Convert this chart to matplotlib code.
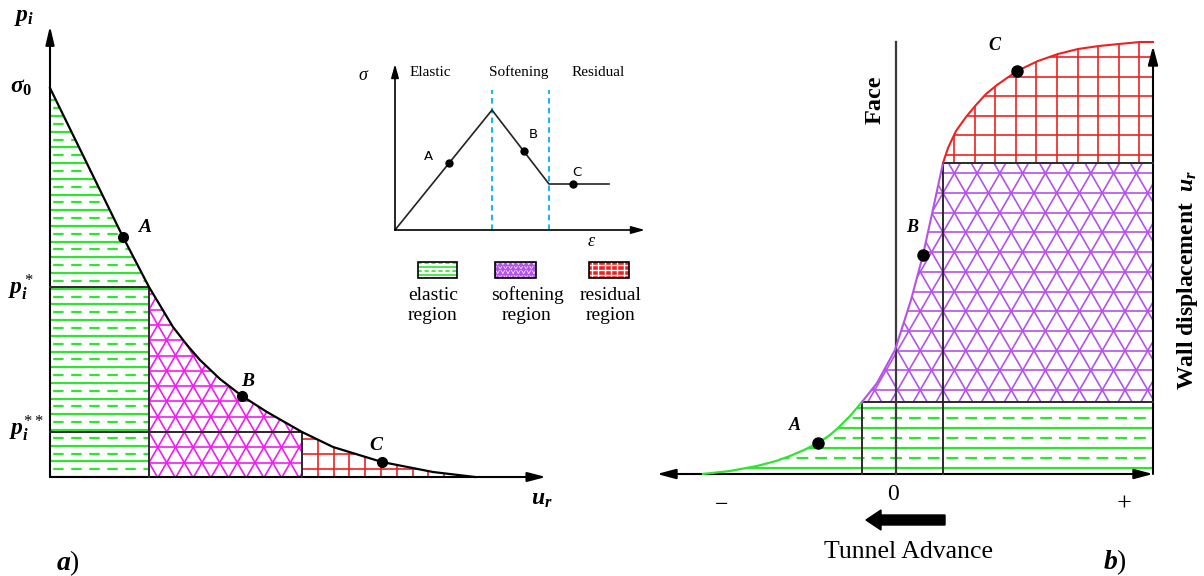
import numpy as np
import matplotlib
matplotlib.use("Agg")
import matplotlib.pyplot as plt
from matplotlib.patches import Polygon, Rectangle, FancyArrow
from matplotlib.collections import LineCollection

plt.rcParams.update({
    "font.family": ["Liberation Serif", "DejaVu Serif"],
    "mathtext.fontset": "custom",
    "mathtext.rm": "Liberation Serif",
    "mathtext.it": "Liberation Serif:italic:bold",
    "mathtext.bf": "Liberation Serif:bold",
    "lines.scale_dashes": False,
})

# ---------------- data (panel a: ground reaction curve) ----------------
pa_u = [0, 73, 99, 111, 123, 137, 150, 170, 192, 217, 252, 283, 332, 383, 425]
pa_p = [389, 240, 190, 170, 150, 132, 117, 98, 81, 65, 45, 30, 15, 5, 0]
pa_sigma0 = 389
pa_pstar = 190
pa_p2star = 45
pa_u_star = 99
pa_u_2star = 252
pa_pt_names = ["A", "B", "C"]
pa_pt_u = [73, 192, 332]
pa_pt_p = [240, 81, 15]

# ---------------- data (inset: stress-strain) ----------------
in_eps = [0, 97, 154, 214]
in_sig = [0, 120, 46, 46]
in_pt_names = ["A", "B", "C"]
in_pt_eps = [54, 129, 178]
in_pt_sig = [67, 79, 46]
in_zone_names = ["Elastic", "Softening", "Residual"]
in_legend_names = ["elastic", "softening", "residual"]

# ---------------- data (panel b: longitudinal displacement profile) ----------------
pb_green_x = [-193, -166, -139, -120, -106, -92, -78, -66, -58, -46, -34]
pb_green_y = [0, 3, 8, 13, 18, 24, 31, 39, 46, 58, 72]
pb_purple_x = [-34, -19, -1, 15, 27, 39, 47]
pb_purple_y = [72, 91, 124, 174, 219, 274, 311]
pb_red_x = [47, 52, 60, 70, 80, 90, 101, 121, 142, 162, 182, 203, 223, 244, 257]
pb_red_y = [311, 326, 343, 357, 369, 380, 389, 403, 413, 420, 425, 428, 430, 432, 432]
pb_pt_names = ["A", "B", "C"]
pb_pt_x = [-78, 27, 121]
pb_pt_y = [31, 219, 403]
pb_x_max = 257
pb_face_top = 432

W, H = 1204, 576
fig = plt.figure(figsize=(W / 100, H / 100), dpi=100)

GREEN = "#2fe52f"
MAGENTA = "#f01cf0"
PURPLE = "#b452ec"
RED = "#f02020"
DARK = "#2a2a2a"


def panel_axes(x0, x1, y0, y1, ox, oy):
    ax = fig.add_axes([x0 / W, 1 - y1 / H, (x1 - x0) / W, (y1 - y0) / H])
    ax.set_xlim(x0 - ox, x1 - ox)
    ax.set_ylim(oy - y1, oy - y0)
    ax.axis("off")
    ax.patch.set_alpha(0)
    return ax


def hatch(ax, poly, angle, spacing, phase_pt, color, lw, ls="solid", z=2):
    verts = np.asarray(poly.get_xy())
    th = np.deg2rad(angle)
    d = np.array([np.cos(th), np.sin(th)])
    n = np.array([-np.sin(th), np.cos(th)])
    proj = verts @ n
    p0 = np.dot(n, phase_pt)
    kmin = int(np.floor((proj.min() - p0) / spacing)) - 1
    kmax = int(np.ceil((proj.max() - p0) / spacing)) + 1
    diag = np.ptp(verts[:, 0]) + np.ptp(verts[:, 1]) + 10
    c = verts.mean(axis=0)
    segs = []
    for k in range(kmin, kmax + 1):
        off = p0 + k * spacing - np.dot(n, c)
        base = c + n * off
        segs.append([base - d * diag, base + d * diag])
    lc = LineCollection(segs, colors=color, linewidths=lw, linestyles=ls, zorder=z)
    lc.set_clip_path(poly)
    ax.add_collection(lc, autolim=False)


def region(ax, xy):
    poly = Polygon(xy, closed=True, facecolor="white", edgecolor="none", zorder=1)
    ax.add_patch(poly)
    return poly


def green_fill(ax, poly, y0, step, dash, lw_s, lw_d):
    hatch(ax, poly, 0, 2 * step, (0, y0), GREEN, lw_s)
    hatch(ax, poly, 0, 2 * step, (0, y0 + step), GREEN, lw_d, ls=(0, dash))


def tri_fill(ax, poly, x0, y0, h, color, lw):
    hatch(ax, poly, 0, h, (x0, y0), color, lw)
    hatch(ax, poly, 60, h, (x0, y0), color, lw)
    hatch(ax, poly, -60, h, (x0, y0), color, lw)


def grid_fill(ax, poly, x0, sx, y0, sy, color, lw):
    hatch(ax, poly, 90, sx, (x0, 0), color, lw)
    hatch(ax, poly, 0, sy, (0, y0), color, lw)


def arrow(ax, start, end, ms=14, lw=1.5, style="-|>", color="black", hl=0.8, hw=0.22):
    ax.annotate("", xy=end, xytext=start,
                arrowprops=dict(arrowstyle=style + ",head_length=%g,head_width=%g" % (hl, hw),
                                mutation_scale=ms, lw=lw, color=color,
                                shrinkA=0, shrinkB=0), annotation_clip=False)


# ======================= Panel a =======================
axa = panel_axes(0, 640, 0, 576, ox=50, oy=477)
u = np.array(pa_u, float)
p = np.array(pa_p, float)

m1 = u <= pa_u_star
g_poly = region(axa, [(0, 0)] + list(zip(u[m1], p[m1])) + [(pa_u_star, 0)])
green_fill(axa, g_poly, 204, 7.85, (7.5, 5.5), 1.6, 1.6)

m2 = (u >= pa_u_star) & (u <= pa_u_2star)
s_poly = region(axa, [(pa_u_star, 0)] + list(zip(u[m2], p[m2])) + [(pa_u_2star, 0)])
tri_fill(axa, s_poly, pa_u_star, pa_p2star, 15.3, MAGENTA, 1.2)

m3 = u >= pa_u_2star
r_poly = region(axa, [(pa_u_2star, 0)] + list(zip(u[m3], p[m3])))
grid_fill(axa, r_poly, pa_u_2star, 15.8, 38, 15.0, RED, 1.2)

# boundaries
axa.plot([0, pa_u_star], [pa_pstar, pa_pstar], color=DARK, lw=1.4, zorder=4)
axa.plot([0, pa_u_2star], [pa_p2star, pa_p2star], color=DARK, lw=1.4, zorder=4)
axa.plot([pa_u_star, pa_u_star], [0, pa_pstar], color=DARK, lw=1.4, zorder=4)
axa.plot([pa_u_2star, pa_u_2star], [0, pa_p2star], color=DARK, lw=1.4, zorder=4)
axa.plot(u, p, color="black", lw=1.6, zorder=5)
arrow(axa, (0, 0), (0, 451), ms=13, hl=0.85, hw=0.2)
arrow(axa, (0, 0), (496, 0), ms=13, hl=0.85, hw=0.22)
axa.plot(pa_pt_u, pa_pt_p, "o", color="black", ms=7, zorder=6)
for nm, x, y, dx, dy in zip(pa_pt_names, pa_pt_u, pa_pt_p, [22, 6, -5], [9, 14, 16]):
    axa.text(x + dx, y + dy, "$%s$" % nm, fontsize=14, ha="center", va="center", zorder=7)

axa.text(-26, 459, r"$p_i$", fontsize=17, ha="center", va="center")
axa.text(-29, 389, r"$\sigma_{\mathbf{0}}$", fontsize=17, ha="center", va="center")
axa.text(-29, 190, r"$p_i^*$", fontsize=17, ha="center", va="center")
axa.text(-24, 49, r"$p_i^{**}$", fontsize=17, ha="center", va="center")
axa.text(492, -22, r"$u_r$", fontsize=17, ha="center", va="center")
axa.text(18, -86, r"$a$)", fontsize=20, ha="center", va="center")

# ======================= Inset =======================
axi = panel_axes(350, 650, 50, 340, ox=395, oy=230)
axi.plot([97, 97], [0, 140], color="#1fb6ee", lw=1.5, ls=(0, (4, 3)), zorder=2)
axi.plot([154, 154], [0, 140], color="#1fb6ee", lw=1.5, ls=(0, (4, 3)), zorder=2)
axi.plot(in_eps, in_sig, color="#222222", lw=1.2, zorder=3)
arrow(axi, (0, 0), (0, 166), ms=9, lw=1.2, hl=0.9, hw=0.25)
arrow(axi, (0, 0), (250, 0), ms=9, lw=1.2, hl=0.9, hw=0.25)
axi.plot(in_pt_eps, in_pt_sig, "o", color="black", ms=5, zorder=4)
for nm, x, y, dx, dy in zip(in_pt_names, in_pt_eps, in_pt_sig, [-21, 9, 4], [7, 16, 12]):
    axi.text(x + dx, y + dy, nm, fontsize=9.5, family="DejaVu Sans", ha="center", va="center")
for nm, x in zip(in_zone_names, [35, 124, 203]):
    axi.text(x, 158, nm, fontsize=11, ha="center", va="center")
axi.text(-32, 155, "σ", fontsize=13, style="italic", ha="center", va="center")
axi.text(196, -12, "ε", fontsize=13, style="italic", ha="center", va="center")

box_x = [23, 100, 194]
box_w = [39, 41, 40]
for i, (bx, bw) in enumerate(zip(box_x, box_w)):
    poly = Polygon([(bx, -48), (bx, -32), (bx + bw, -32), (bx + bw, -48)], closed=True,
                   facecolor="white", edgecolor="none", zorder=1)
    axi.add_patch(poly)
    if i == 0:
        green_fill(axi, poly, -44.5, 3.7, (3, 2), 1.2, 1.2)
    elif i == 1:
        poly.set_facecolor(PURPLE)
        hatch(axi, poly, 60, 4.5, (bx, -48), "white", 0.5)
        hatch(axi, poly, -60, 4.5, (bx, -48), "white", 0.5)
        hatch(axi, poly, 0, 4.5, (bx, -48), PURPLE, 1.0)
    else:
        poly.set_facecolor(RED)
        grid_fill(axi, poly, bx + 3, 6.3, -45, 5.2, "white", 1.0)
    axi.add_patch(Rectangle((bx, -48), bw, 16, facecolor="none", edgecolor="black", lw=1.2, zorder=5))
for nm, x in zip(in_legend_names, [38, 132, 216]):
    axi.text(x, -65, nm, fontsize=14, ha="center", va="center")
    axi.text(x, -85, "region", fontsize=14, ha="center", va="center")

# ======================= Panel b =======================
axb = panel_axes(640, 1204, 0, 576, ox=896, oy=474)
gx, gy = np.array(pb_green_x, float), np.array(pb_green_y, float)
px_, py_ = np.array(pb_purple_x, float), np.array(pb_purple_y, float)
rx, ry = np.array(pb_red_x, float), np.array(pb_red_y, float)
y_g = gy[-1]
y_r = ry[0]

gb = region(axb, list(zip(gx, gy)) + [(pb_x_max, y_g), (pb_x_max, 0)])
green_fill(axb, gb, 6, 10, (8.5, 5), 1.6, 1.6)
pbp = region(axb, list(zip(px_, py_)) + [(pb_x_max, y_r), (pb_x_max, y_g)])
tri_fill(axb, pbp, px_[-1], 84, 19.7, PURPLE, 1.2)
rbp = region(axb, list(zip(rx, ry)) + [(pb_x_max, y_r)])
grid_fill(axb, rbp, 58, 20.6, 319, 19.6, RED, 1.2)

axb.plot(gx, gy, color=GREEN, lw=1.6, zorder=5)
axb.plot(px_, py_, color=PURPLE, lw=1.5, zorder=5)
axb.plot(rx, ry, color=RED, lw=1.5, zorder=5)

axb.plot([px_[-1], pb_x_max], [y_r, y_r], color=DARK, lw=1.4, zorder=4)
axb.plot([gx[-1], pb_x_max], [y_g, y_g], color=DARK, lw=1.4, zorder=4)
axb.plot([gx[-1], gx[-1]], [0, y_g], color=DARK, lw=1.4, zorder=4)
axb.plot([px_[-1], px_[-1]], [0, y_r], color=DARK, lw=1.4, zorder=4)
axb.plot([0, 0], [0, pb_face_top], color="#3a3a3a", lw=1.6, zorder=4)
arrow(axb, (pb_x_max, 0), (pb_x_max, 428), ms=15, hl=0.75, hw=0.2)
arrow(axb, (-239, 0), (pb_x_max, 0), ms=15, style="<|-|>", hl=0.75, hw=0.2)

axb.plot(pb_pt_x, pb_pt_y, "o", color="black", ms=8, zorder=6)
for nm, x, y, dx, dy in zip(pb_pt_names, pb_pt_x, pb_pt_y, [-23, -10, -22], [18, 28, 26]):
    axb.text(x + dx, y + dy, "$%s$" % nm, fontsize=13, ha="center", va="center", zorder=7)

axb.text(-21, 374, "Face", fontsize=17.5, fontweight="bold", rotation=90, ha="center", va="center")
axb.text(292, 194, r"Wall displacement  $u_r$", fontsize=17, fontweight="bold",
         rotation=90, ha="center", va="center")
axb.text(-3, -20, "0", fontsize=17, ha="center", va="center")
axb.text(-174, -31, "\u2212", fontsize=17, ha="center", va="center")
axb.text(228, -31, "+", fontsize=19, ha="center", va="center")
axb.add_patch(FancyArrow(49, -46, -79, 0, width=10, head_width=20, head_length=15,
                         length_includes_head=True, color="black", zorder=5))
axb.text(12, -78, "Tunnel Advance", fontsize=18.5, ha="center", va="center")
axb.text(219, -88, r"$b$)", fontsize=20, ha="center", va="center")

fig.savefig("out.png", dpi=100, facecolor="white")
